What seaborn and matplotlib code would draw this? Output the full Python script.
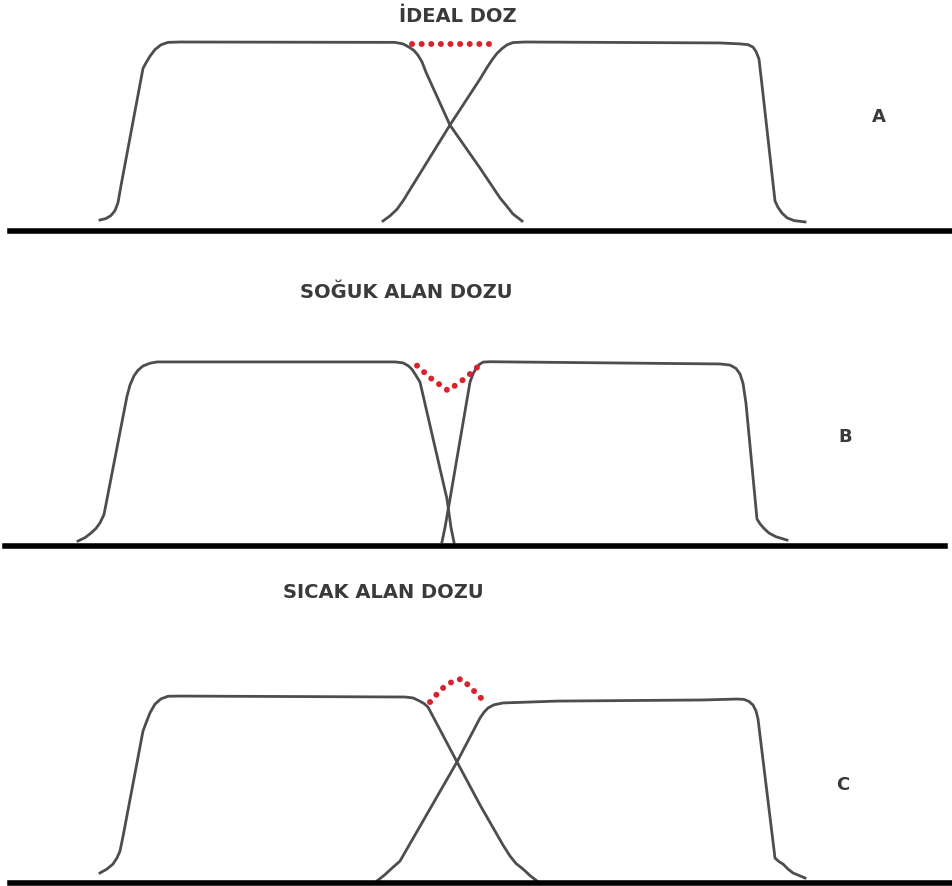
import matplotlib
matplotlib.use("Agg")
import matplotlib.pyplot as plt
import seaborn as sns

# dose profiles (x = lateral position, y = relative dose %)
# panel A - ideal dose
a_left_x = [100, 106, 111, 115, 118, 121, 143, 146, 150, 155, 161, 168, 180,
            395, 403, 409, 414, 418, 422, 426, 450, 480, 500, 507, 513, 522]
a_left_y = [5.8, 6.6, 8.2, 10.8, 15, 24, 86, 89, 92.5, 96, 98.5, 99.8, 100,
            99.8, 99, 97.3, 95.5, 93, 89.5, 84, 56, 33.3, 17.5, 13, 9, 5.3]
a_right_x = [383, 390, 397, 403, 450, 480, 487, 492, 497, 502, 507, 513, 525,
             720, 740, 748, 753, 756, 759, 763, 775, 778, 782, 787, 794, 805]
a_right_y = [5.3, 8, 11.5, 15.9, 56.1, 80.4, 86.5, 90.5, 94, 96.5, 98.5, 99.7, 100,
             99.5, 99, 98.6, 97.3, 95, 91, 72.5, 15.9, 12.5, 9.5, 7, 5.5, 4.8]
a_join_x = [412, 497]
a_join_y = [99, 99]

# panel B - cold spot
b_left_x = [78, 85, 91, 96, 100, 104, 127, 130, 134, 138, 143, 150, 157, 170,
            395, 403, 408, 412, 415, 420, 447, 451, 454]
b_left_y = [2.7, 4.5, 7, 9.5, 12.5, 17, 81, 87, 92, 95, 97.3, 98.8, 99.5, 99.5,
            99.5, 99, 97.5, 95.5, 93, 88.6, 25.4, 10, 2]
b_right_x = [442, 445, 450, 470, 473, 476, 479, 483, 490,
             720, 730, 736, 740, 743, 746, 757, 760, 764, 769, 776, 787]
b_right_y = [2.2, 10, 25.4, 88.6, 93, 96, 98, 99.4, 99.6,
             98.4, 97.8, 96, 93, 88, 77, 14.6, 12, 9.5, 7, 5, 3.2]
b_join_x = [417, 430, 448, 466, 481]
b_join_y = [97.5, 91, 84, 91, 98.5]

# panel C - hot spot
c_left_x = [100, 107, 113, 117, 120, 123, 143, 146, 150, 155, 161, 168, 180,
            405, 413, 419, 424, 428, 457, 480, 503, 510, 516, 523, 530, 537]
c_left_y = [5.4, 7.5, 10.2, 13.5, 17.2, 25, 81.7, 86, 91.5, 96.2, 99, 100.4, 100.5,
            100, 99.5, 98, 96.5, 94.6, 65.1, 42, 20.4, 14.5, 10.5, 7.5, 4, 1.1]
c_right_x = [377, 385, 392, 400, 457, 480, 484, 488, 494, 503, 557, 703,
             737, 744, 749, 753, 756, 758, 775, 779, 783, 788, 793, 805]
c_right_y = [1.1, 4.5, 8, 11.8, 65.1, 88.7, 91.8, 94.1, 95.8, 96.8, 97.8, 98.4,
             98.9, 98.7, 97.6, 95.7, 92.5, 88.2, 13.4, 11.5, 10.2, 7.5, 5.4, 2.7]
c_join_x = [430, 437, 445, 455, 462, 470, 477, 485]
c_join_y = [97.3, 101.6, 105.9, 109.1, 109.7, 105.4, 101.6, 97.3]

titles = ["İDEAL DOZ", "SOĞUK ALAN DOZU", "SICAK ALAN DOZU"]
letters = ["A", "B", "C"]

W, H = 952, 887
fig = plt.figure(figsize=(W / 100, H / 100), dpi=100)

# (baseline px, px per dose unit, x0, x1, top px)
panels = [
    (232, 1.89, 10, 950, 0),
    (547, 1.85, 5, 945, 260),
    (884, 1.86, 10, 950, 570),
]
profiles = [
    (a_left_x, a_left_y, a_right_x, a_right_y, a_join_x, a_join_y),
    (b_left_x, b_left_y, b_right_x, b_right_y, b_join_x, b_join_y),
    (c_left_x, c_left_y, c_right_x, c_right_y, c_join_x, c_join_y),
]

gray = "#4d4d4d"
red = "#d8232d"

for (base, s, x0, x1, top), (lx, ly, rx, ry, jx, jy) in zip(panels, profiles):
    ax = fig.add_axes([x0 / W, 1 - base / H, (x1 - x0) / W, (base - top) / H])
    sns.lineplot(x=lx, y=ly, sort=False, estimator=None, color=gray, lw=2.0,
                 solid_joinstyle="round", ax=ax)
    sns.lineplot(x=rx, y=ry, sort=False, estimator=None, color=gray, lw=2.0,
                 solid_joinstyle="round", ax=ax)
    ax.plot(jx, jy, color=red, lw=4.3, linestyle=(0, (0.01, 1.6)),
            dash_capstyle="round", zorder=5)
    ax.axhline(0, color="black", lw=4, clip_on=False)
    ax.set_xlim(x0, x1)
    ax.set_ylim(0, (base - top) / s)
    ax.axis("off")

txt = dict(va="center", fontsize=14, family="DejaVu Sans",
           fontweight="bold", color="#3a3a3a")
fig.text(458 / W, 1 - 16 / H, titles[0], ha="center", **txt)
fig.text(300 / W, 1 - 292 / H, titles[1], ha="left", **txt)
fig.text(283 / W, 1 - 592 / H, titles[2], ha="left", **txt)

letter_pos = [(879, 117), (845, 437), (843, 785)]
for t, (x, y) in zip(letters, letter_pos):
    fig.text(x / W, 1 - y / H, t, ha="center", va="center", fontsize=13,
             family="DejaVu Sans", fontweight="bold", color="#3a3a3a")

fig.savefig("out.png", dpi=100, facecolor="white")
